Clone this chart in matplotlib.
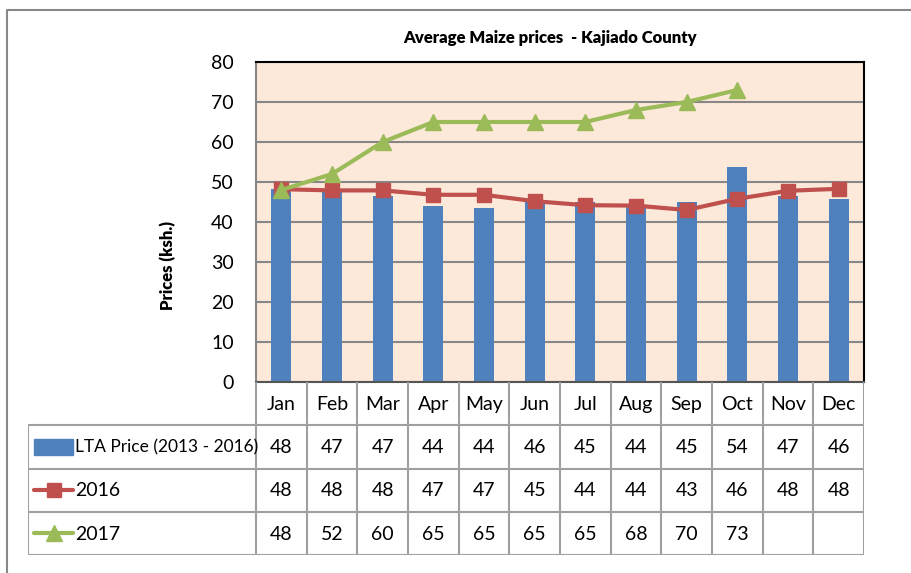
import numpy as np
import matplotlib
matplotlib.use("Agg")
import matplotlib.pyplot as plt
from matplotlib.patches import Rectangle
from matplotlib.lines import Line2D

plt.rcParams['font.family'] = ['Lato', 'DejaVu Sans']

months = ["Jan", "Feb", "Mar", "Apr", "May", "Jun", "Jul", "Aug", "Sep", "Oct", "Nov", "Dec"]
lta = [48.2, 47.4, 46.6, 44.0, 43.6, 45.6, 45.0, 44.1, 45.1, 53.8, 46.6, 45.8]
y2016 = [48.2, 47.9, 47.9, 46.8, 46.8, 45.2, 44.2, 44.1, 43.0, 45.8, 47.8, 48.3]
y2017 = [48, 52, 60, 65, 65, 65, 65, 68, 70, 73, np.nan, np.nan]
series_names = ["LTA Price (2013 - 2016)", "2016", "2017"]
title = "Average Maize prices  - Kajiado County"
ylabel = "Prices (ksh.)"

BLUE = "#4F81BD"
RED = "#C0504D"
GREEN = "#9BBB59"
PEACH = "#FDE9D9"
GRID = "#868686"
TBL = "#A0A0A0"

W, H = 911, 573
fig = plt.figure(figsize=(W / 100, H / 100), dpi=100)

# outer frame
fig.add_artist(Line2D([7 / W, 7 / W, 1.0], [0.0, 1 - 10 / H, 1 - 10 / H],
                      transform=fig.transFigure, color="#888888", lw=1.5))

px_l, px_r, px_t, px_b = 256, 864, 62, 382
ax = fig.add_axes([px_l / W, 1 - px_b / H, (px_r - px_l) / W, (px_b - px_t) / H])
ax.set_facecolor(PEACH)
x = np.arange(len(months))
ax.bar(x, lta, width=0.4, color=BLUE, zorder=2)
ax.plot(x, y2016, color=RED, lw=3, marker="s", ms=10, zorder=3)
ax.plot(x, y2017, color=GREEN, lw=3, marker="^", ms=11, zorder=4)
ax.set_xlim(-0.5, len(months) - 0.5)
ax.set_ylim(0, 80)
ax.set_yticks(range(0, 81, 10))
ax.set_xticks([])
ax.tick_params(axis="y", length=0, pad=16, labelsize=14)
ax.grid(axis="y", color=GRID, lw=1.5, zorder=1)
ax.set_axisbelow(True)
ax.spines["top"].set_color("#000000")
ax.spines["right"].set_color("#000000")
ax.spines["left"].set_color(GRID)
ax.spines["bottom"].set_color("#555555")
for s in ax.spines.values():
    s.set_linewidth(1.5)
ax.set_ylabel(ylabel, fontsize=12, fontweight="heavy")
ax.yaxis.set_label_coords((176 - px_l) / (px_r - px_l), (px_b - 265) / (px_b - px_t))

fig.text(550 / W, 1 - 38 / H, title, ha="center", va="center", fontsize=12, fontweight="heavy")

# data table
t_l, t_b = 28, 555
colw = (px_r - px_l) / len(months)
ta = fig.add_axes([t_l / W, 1 - t_b / H, (px_r - t_l) / W, (t_b - px_b) / H])
xl = -0.5 - (px_l - t_l) / colw
ta.set_xlim(xl, len(months) - 0.5)
ta.set_ylim(4, 0)
ta.axis("off")
lk = dict(color=TBL, lw=1.5, solid_capstyle="butt")
for yy in [1, 2, 3, 4]:
    ta.plot([xl, len(months) - 0.5], [yy, yy], **lk)
ta.plot([xl, xl], [1, 4], **lk)
for k in range(len(months) + 1):
    ta.plot([k - 0.5, k - 0.5], [0, 4], **lk)

for i, m in enumerate(months):
    ta.text(i, 0.52, m, ha="center", va="center", fontsize=14)
rows = [lta, y2016, y2017]
for r, vals in enumerate(rows):
    for i, v in enumerate(vals):
        if not np.isnan(v):
            ta.text(i, r + 1.52, f"{round(v):d}", ha="center", va="center", fontsize=14)

# legend keys
k0 = xl + 6 / colw
k1 = xl + 45 / colw
ta.add_patch(Rectangle((k0, 1.5 - 0.18), k1 - k0, 0.36, color=BLUE))
ta.plot([k0, k1], [2.5, 2.5], color=RED, lw=3, solid_capstyle="round")
ta.plot([(k0 + k1) / 2], [2.5], color=RED, marker="s", ms=10)
ta.plot([k0, k1], [3.5, 3.5], color=GREEN, lw=3, solid_capstyle="round")
ta.plot([(k0 + k1) / 2], [3.5], color=GREEN, marker="^", ms=11)
tx = xl + 47 / colw
for r, name in enumerate(series_names):
    ta.text(tx, r + 1.52, name, ha="left", va="center", fontsize=12.5 if r == 0 else 14)

fig.savefig("out.png", dpi=100)
